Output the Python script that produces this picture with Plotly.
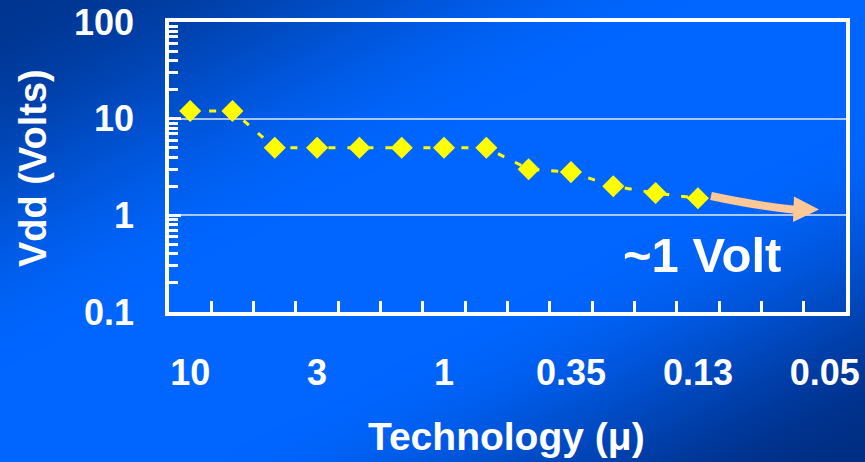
import base64
import struct
import zlib

import numpy as np
import plotly.graph_objects as go

# ---- data -------------------------------------------------------------
# technology nodes sit on an evenly spaced categorical axis (16 slots);
# only every third slot carries a label
node_slots = list(range(16))
label_slots = [0, 3, 6, 9, 12, 15]
tick_labels = ["10", "3", "1", "0.35", "0.13", "0.05"]

# supply voltage for the first 13 generations
vdd_slots = list(range(13))
vdd_volts = [12, 12, 5, 5, 5, 5, 5, 5, 3.0, 2.8, 2.0, 1.7, 1.5]

# ---- geometry ---------------------------------------------------------
W, H = 865, 462
ML, MR, MT, MB = 169, 19, 22, 150
PW, PH = W - ML - MR, H - MT - MB


def px(x):
    return (x - ML) / PW


def py(y):
    return (H - MB - y) / PH


# ---- diagonal blue gradient backdrop ---------------------------------
def gradient_png(w, h):
    xs = np.linspace(0, 1, w)[None, :]
    ys = np.linspace(0, 1, h)[:, None]
    t = xs + ys  # 0 at top-left, 2 at bottom-right
    dark_a = np.array([0, 54, 146], float)
    bright = np.array([0, 102, 255], float)
    dark_b = np.array([0, 46, 132], float)

    def ease(u):
        u = np.clip(u, 0, 1)
        return u * u * (3 - 2 * u)

    a = ease(t / 0.8)[..., None]
    b = ease((t - 1.25) / 0.75)[..., None]
    col = dark_a + (bright - dark_a) * a
    col = col + (dark_b - bright) * b
    img = np.clip(col, 0, 255).astype(np.uint8)
    raw = b"".join(b"\x00" + row.tobytes() for row in img)

    def chunk(tag, data):
        c = struct.pack(">I", len(data)) + tag + data
        return c + struct.pack(">I", zlib.crc32(tag + data) & 0xFFFFFFFF)

    png = b"\x89PNG\r\n\x1a\n"
    png += chunk(b"IHDR", struct.pack(">IIBBBBB", w, h, 8, 2, 0, 0, 0))
    png += chunk(b"IDAT", zlib.compress(raw, 9))
    png += chunk(b"IEND", b"")
    return "data:image/png;base64," + base64.b64encode(png).decode()


bg = gradient_png(W // 2, H // 2)

FONT = "Liberation Sans, Arial, sans-serif"

fig = go.Figure()
fig.add_trace(
    go.Scatter(
        x=vdd_slots,
        y=vdd_volts,
        mode="lines+markers",
        line=dict(color="#FFFF00", width=3, dash="7px,12px"),
        marker=dict(symbol="diamond", size=17, color="#FFFF00"),
        hoverinfo="skip",
        showlegend=False,
    )
)

minor_y = [m * 10.0 ** e for e in (-1, 0, 1) for m in range(2, 10)]

fig.update_layout(
    width=W,
    height=H,
    margin=dict(l=ML, r=MR, t=MT, b=MB),
    paper_bgcolor="#0058E0",
    plot_bgcolor="rgba(0,0,0,0)",
    font=dict(family=FONT, color="white"),
    images=[
        dict(
            source=bg,
            xref="paper",
            yref="paper",
            x=-ML / PW,
            y=1 + MT / PH,
            sizex=W / PW,
            sizey=H / PH,
            xanchor="left",
            yanchor="top",
            sizing="stretch",
            layer="below",
        )
    ],
    xaxis=dict(
        range=[-0.5, 15.5],
        automargin=False,
        tickmode="array",
        tickvals=label_slots,
        ticktext=tick_labels,
        ticks="",
        showgrid=False,
        zeroline=False,
        showline=True,
        linecolor="white",
        linewidth=3.5,
        mirror=True,
        ticklabelstandoff=26,
        tickfont=dict(size=36, family=FONT, color="white", weight="bold"),
        minor=dict(
            tickmode="array",
            tickvals=[s + 0.5 for s in node_slots[:-1]],
            ticks="inside",
            ticklen=11,
            tickwidth=3,
            tickcolor="white",
            showgrid=False,
        ),
    ),
    yaxis=dict(
        type="log",
        range=[-1, 2],
        automargin=False,
        tickmode="array",
        tickvals=[0.1, 1, 10, 100],
        ticktext=["0.1", "1", "10", "100"],
        ticks="inside",
        ticklen=12,
        tickwidth=3,
        tickcolor="white",
        showgrid=True,
        gridcolor="rgba(255,255,255,0.65)",
        gridwidth=1.5,
        zeroline=False,
        showline=True,
        linecolor="white",
        linewidth=3.5,
        mirror=True,
        ticklabelstandoff=24,
        tickfont=dict(size=36, family=FONT, color="white", weight="bold"),
        minor=dict(
            tickmode="array",
            tickvals=minor_y,
            ticks="inside",
            ticklen=9,
            tickwidth=3,
            tickcolor="white",
            showgrid=False,
        ),
    ),
)

# axis titles
fig.add_annotation(
    text="Vdd (Volts)",
    xref="paper",
    yref="paper",
    x=px(33),
    y=py(168),
    xanchor="center",
    yanchor="middle",
    textangle=-90,
    showarrow=False,
    font=dict(size=38, family=FONT, color="white", weight="bold"),
)
fig.add_annotation(
    text="Technology (\u03bc)",
    xref="paper",
    yref="paper",
    x=px(506),
    y=py(437),
    xanchor="center",
    yanchor="middle",
    showarrow=False,
    font=dict(size=39, family=FONT, color="white", weight="bold"),
)

# "~1 Volt" call-out with a curved arrow heading to the right
fig.add_annotation(
    text="~1 Volt",
    xref="paper",
    yref="paper",
    x=px(702),
    y=py(255),
    xanchor="center",
    yanchor="middle",
    showarrow=False,
    font=dict(size=49, family=FONT, color="white", weight="bold"),
)
ARROW = "#FFC896"
fig.add_shape(
    type="path",
    xref="paper",
    yref="paper",
    path=f"M {px(711)},{py(196)} Q {px(758)},{py(206)} {px(797)},{py(210)}",
    line=dict(color=ARROW, width=8),
    fillcolor="rgba(0,0,0,0)",
)
fig.add_shape(
    type="path",
    xref="paper",
    yref="paper",
    path=f"M {px(794)},{py(196.5)} L {px(819)},{py(209.5)} L {px(793)},{py(222)} Z",
    line=dict(color=ARROW, width=0),
    fillcolor=ARROW,
)

fig.write_html("out.html")
